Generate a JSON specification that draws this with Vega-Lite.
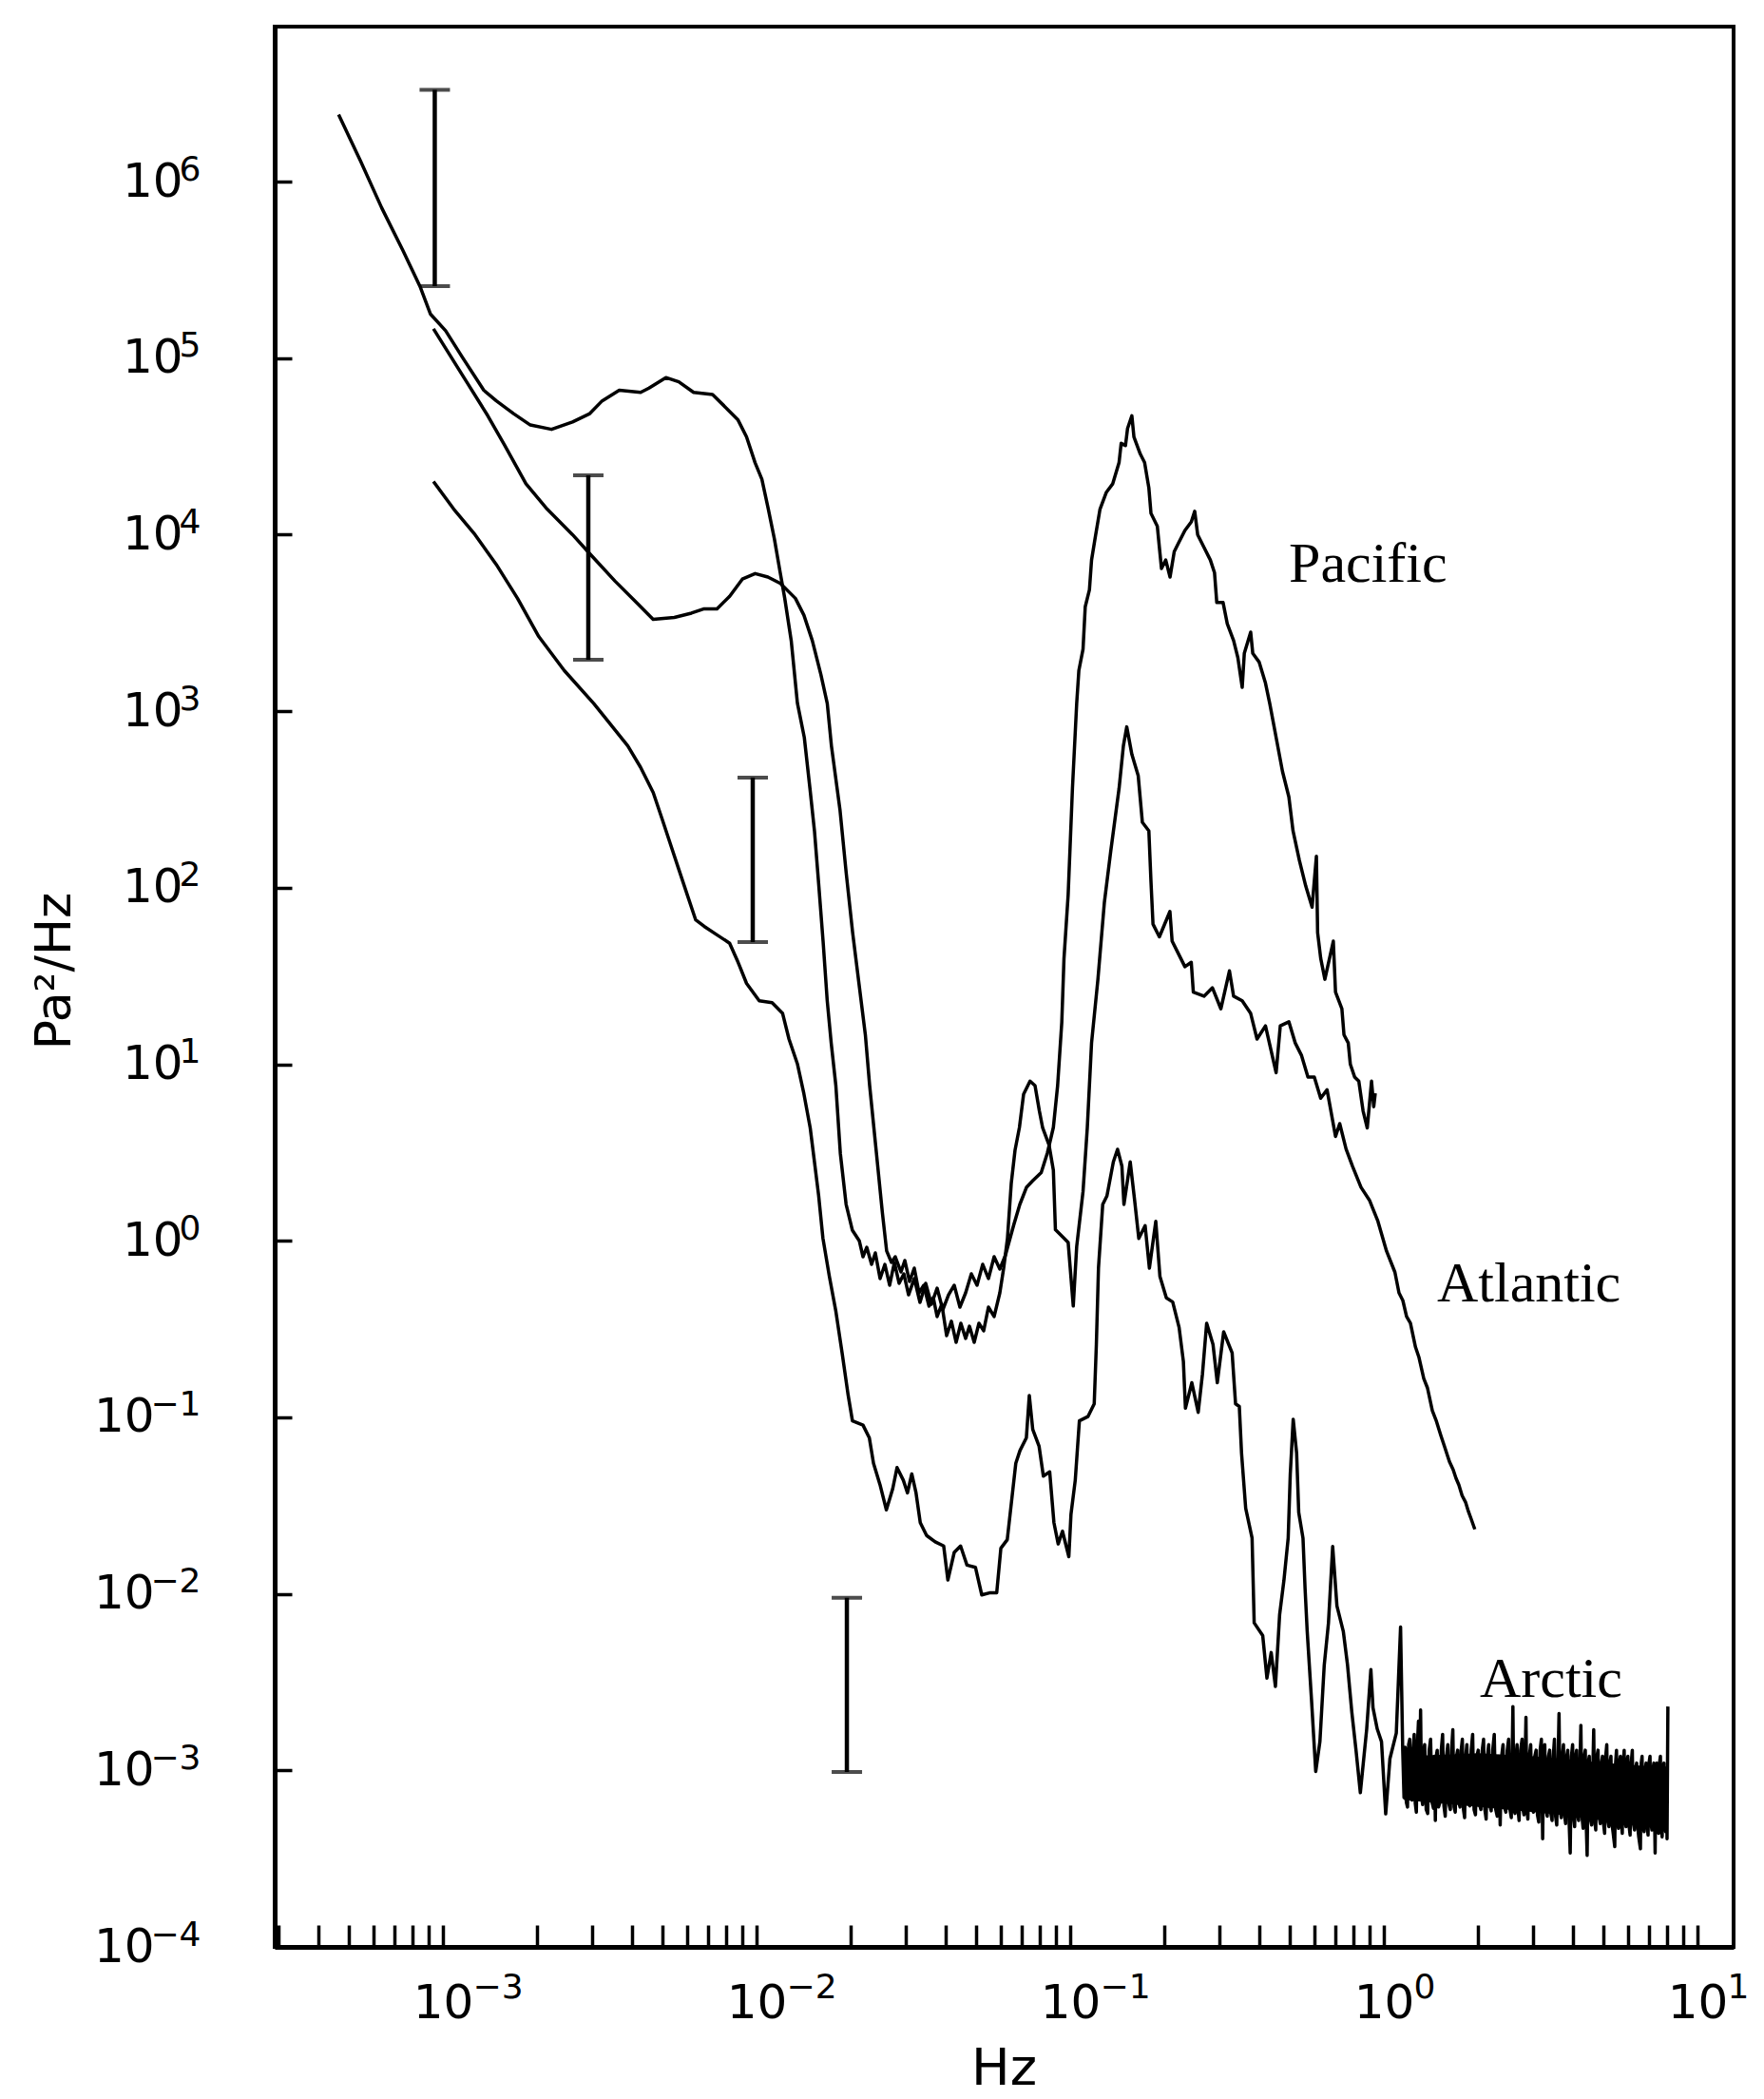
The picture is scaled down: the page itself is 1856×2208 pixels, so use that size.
{
"$schema": "https://vega.github.io/schema/vega-lite/v6.json",
"width": 1535, "height": 2020,
"autosize": {"type": "none"},
"padding": {"left": 289, "top": 28, "right": 32, "bottom": 160},
"background": "white",
"view": {"stroke": "black", "strokeWidth": 4, "fill": null},
"config": {"axis": {"grid": false, "domainColor": "black", "tickColor": "black", "labelColor": "black", "titleColor": "black"}},
"resolve": {"axis": {"x": "independent", "y": "independent"}},
"datasets": {
"band": [
{"f": 1.16, "v": 0.00068, "v2": 0.0012}, {"f": 2.0, "v": 0.00062, "v2": 0.00125}, {"f": 3.0, "v": 0.00058, "v2": 0.0012}, {"f": 4.0, "v": 0.00055, "v2": 0.00115}, {"f": 5.0, "v": 0.00052, "v2": 0.0011}, {"f": 6.0, "v": 0.0005, "v2": 0.00108}, {"f": 7.0, "v": 0.00049, "v2": 0.00105}, {"f": 7.96, "v": 0.00048, "v2": 0.00105}
],
"bars": [
{"f": 0.000942, "v": 256000, "v2": 3310000},
{"f": 0.002908, "v": 1954, "v2": 21700},
{"f": 0.009725, "v": 49.2, "v2": 421},
{"f": 0.01941, "v": 0.00098, "v2": 0.0095}
],
"caps": [
{"f": 0.000942, "v": 256000}, {"f": 0.000942, "v": 3310000},
{"f": 0.002908, "v": 1954}, {"f": 0.002908, "v": 21700},
{"f": 0.009725, "v": 49.2}, {"f": 0.009725, "v": 421},
{"f": 0.01941, "v": 0.00098}, {"f": 0.01941, "v": 0.0095}
],
"labels": [
{"t": "Pacific", "f": 0.498, "v": 5408},
{"t": "Atlantic", "f": 1.478, "v": 0.4534},
{"t": "Arctic", "f": 2.023, "v": 0.002608}
],
"curves": [
{"s":"Pacific","f":0.000465,"v":2400000},{"s":"Pacific","f":0.000546,"v":1310000},{"s":"Pacific","f":0.000638,"v":710000},{"s":"Pacific","f":0.000745,"v":408000},{"s":"Pacific","f":0.000845,"v":255000},{"s":"Pacific","f":0.000912,"v":178000},{"s":"Pacific","f":0.00102,"v":143000},{"s":"Pacific","f":0.00115,"v":102000},{"s":"Pacific","f":0.00135,"v":65800},{"s":"Pacific","f":0.00148,"v":57300},{"s":"Pacific","f":0.00168,"v":48500},{"s":"Pacific","f":0.0019,"v":41800},{"s":"Pacific","f":0.00222,"v":39500},{"s":"Pacific","f":0.00259,"v":43500},{"s":"Pacific","f":0.00294,"v":48500},{"s":"Pacific","f":0.00322,"v":57300},{"s":"Pacific","f":0.00365,"v":65800},{"s":"Pacific","f":0.00427,"v":64000},{"s":"Pacific","f":0.00454,"v":67600},{"s":"Pacific","f":0.00514,"v":77600},{"s":"Pacific","f":0.00565,"v":73500},{"s":"Pacific","f":0.0063,"v":64000},{"s":"Pacific","f":0.00724,"v":62200},{"s":"Pacific","f":0.00796,"v":52700},{"s":"Pacific","f":0.00873,"v":44600},{"s":"Pacific","f":0.00929,"v":35800},{"s":"Pacific","f":0.00989,"v":25600},{"s":"Pacific","f":0.0104,"v":20600},{"s":"Pacific","f":0.0109,"v":14000},{"s":"Pacific","f":0.0114,"v":9460},{"s":"Pacific","f":0.0119,"v":6080},{"s":"Pacific","f":0.0123,"v":4360},{"s":"Pacific","f":0.0129,"v":2510},{"s":"Pacific","f":0.0135,"v":1110},{"s":"Pacific","f":0.0142,"v":710},{"s":"Pacific","f":0.0148,"v":366},{"s":"Pacific","f":0.0153,"v":210},{"s":"Pacific","f":0.0158,"v":102},{"s":"Pacific","f":0.0163,"v":49.8},{"s":"Pacific","f":0.0168,"v":23},{"s":"Pacific","f":0.0173,"v":13.2},{"s":"Pacific","f":0.0179,"v":7.59},{"s":"Pacific","f":0.0185,"v":3.13},{"s":"Pacific","f":0.0193,"v":1.61},{"s":"Pacific","f":0.0202,"v":1.15},
{"s":"Pacific","f":0.02126,"v":1.0},{"s":"Pacific","f":0.02185,"v":0.812},{"s":"Pacific","f":0.02246,"v":0.919},{"s":"Pacific","f":0.02327,"v":0.735},{"s":"Pacific","f":0.02392,"v":0.853},{"s":"Pacific","f":0.02477,"v":0.611},{"s":"Pacific","f":0.02566,"v":0.735},{"s":"Pacific","f":0.02657,"v":0.56},{"s":"Pacific","f":0.02751,"v":0.754},{"s":"Pacific","f":0.02848,"v":0.574},{"s":"Pacific","f":0.02949,"v":0.65},{"s":"Pacific","f":0.03053,"v":0.494},{"s":"Pacific","f":0.03184,"v":0.611},{"s":"Pacific","f":0.0332,"v":0.448},{"s":"Pacific","f":0.03462,"v":0.574},{"s":"Pacific","f":0.03611,"v":0.437},{"s":"Pacific","f":0.03765,"v":0.539},{"s":"Pacific","f":0.03926,"v":0.406},{"s":"Pacific","f":0.04094,"v":0.494},{"s":"Pacific","f":0.04269,"v":0.56},{"s":"Pacific","f":0.04451,"v":0.421},{"s":"Pacific","f":0.04642,"v":0.507},{"s":"Pacific","f":0.0484,"v":0.65},{"s":"Pacific","f":0.05047,"v":0.56},{"s":"Pacific","f":0.05262,"v":0.735},{"s":"Pacific","f":0.05488,"v":0.611},{"s":"Pacific","f":0.05722,"v":0.812},{"s":"Pacific","f":0.05967,"v":0.691},{"s":"Pacific","f":0.06222,"v":0.832},{"s":"Pacific","f":0.06602,"v":1.222},{"s":"Pacific","f":0.06909,"v":1.606},{"s":"Pacific","f":0.07254,"v":2.007},{"s":"Pacific","f":0.07597,"v":2.189},{"s":"Pacific","f":0.08084,"v":2.433},{"s":"Pacific","f":0.08457,"v":3.137},{"s":"Pacific","f":0.08839,"v":4.384},{"s":"Pacific","f":0.0912,"v":7.566},{"s":"Pacific","f":0.09404,"v":17.36},{"s":"Pacific","f":0.09557,"v":39.85},{"s":"Pacific","f":0.09854,"v":91.4},{"s":"Pacific","f":0.1017,"v":366.7},{"s":"Pacific","f":0.1049,"v":1105},{"s":"Pacific","f":0.1066,"v":1702},{"s":"Pacific","f":0.1099,"v":2245},{"s":"Pacific","f":0.1117,"v":3907},{"s":"Pacific","f":0.1152,"v":4871},{"s":"Pacific","f":0.117,"v":7182},{"s":"Pacific","f":0.1206,"v":10000},{"s":"Pacific","f":0.1245,"v":13960},{"s":"Pacific","f":0.1305,"v":17410},{"s":"Pacific","f":0.1367,"v":19430},{"s":"Pacific","f":0.1432,"v":25660},{"s":"Pacific","f":0.1454,"v":32920},{"s":"Pacific","f":0.1501,"v":32000},{"s":"Pacific","f":0.1524,"v":39960},{"s":"Pacific","f":0.1573,"v":47180},{"s":"Pacific","f":0.1597,"v":35780},{"s":"Pacific","f":0.1673,"v":28650},{"s":"Pacific","f":0.1727,"v":25660},{"s":"Pacific","f":0.1782,"v":18400},{"s":"Pacific","f":0.181,"v":13200},{"s":"Pacific","f":0.1896,"v":11180},{"s":"Pacific","f":0.1925,"v":8480},{"s":"Pacific","f":0.1955,"v":6430},{"s":"Pacific","f":0.2017,"v":7180},{"s":"Pacific","f":0.2082,"v":5750},{"s":"Pacific","f":0.2147,"v":8020},{"s":"Pacific","f":0.2215,"v":8960},{"s":"Pacific","f":0.2322,"v":10570},{"s":"Pacific","f":0.2433,"v":11820},{"s":"Pacific","f":0.2495,"v":13570},{"s":"Pacific","f":0.255,"v":10000},{"s":"Pacific","f":0.2671,"v":8480},{"s":"Pacific","f":0.2799,"v":7180},{"s":"Pacific","f":0.2886,"v":6080},{"s":"Pacific","f":0.2934,"v":4127},{"s":"Pacific","f":0.3073,"v":4127},{"s":"Pacific","f":0.3169,"v":3130},{"s":"Pacific","f":0.332,"v":2509},{"s":"Pacific","f":0.3425,"v":2011},{"s":"Pacific","f":0.3536,"v":1365},{"s":"Pacific","f":0.3591,"v":2126},{"s":"Pacific","f":0.3763,"v":2803},{"s":"Pacific","f":0.3821,"v":2126},{"s":"Pacific","f":0.4003,"v":1900},{"s":"Pacific","f":0.4195,"v":1442},{"s":"Pacific","f":0.4329,"v":1105},{"s":"Pacific","f":0.4536,"v":710},{"s":"Pacific","f":0.4753,"v":456},{"s":"Pacific","f":0.4981,"v":327},{"s":"Pacific","f":0.5135,"v":210},{"s":"Pacific","f":0.5381,"v":142.6},{"s":"Pacific","f":0.5638,"v":102.2},{"s":"Pacific","f":0.5907,"v":77.6},{"s":"Pacific","f":0.6097,"v":150.7},{"s":"Pacific","f":0.6152,"v":55.6},{"s":"Pacific","f":0.6291,"v":39.9},{"s":"Pacific","f":0.6488,"v":30.3},{"s":"Pacific","f":0.6903,"v":49.8},{"s":"Pacific","f":0.7016,"v":25.6},{"s":"Pacific","f":0.7351,"v":20.6},{"s":"Pacific","f":0.7464,"v":14.7},{"s":"Pacific","f":0.7703,"v":13.2},{"s":"Pacific","f":0.7821,"v":10.0},{"s":"Pacific","f":0.8072,"v":8.47},{"s":"Pacific","f":0.8323,"v":8.02},{"s":"Pacific","f":0.8588,"v":5.44},{"s":"Pacific","f":0.8857,"v":4.36},{"s":"Pacific","f":0.9139,"v":8.02},{"s":"Pacific","f":0.9288,"v":5.75},{"s":"Pacific","f":0.9391,"v":6.85},

{"s":"Atlantic","f":0.000933,"v":146700},{"s":"Atlantic","f":0.001018,"v":114400},{"s":"Atlantic","f":0.00119,"v":73400},{"s":"Atlantic","f":0.00139,"v":47200},{"s":"Atlantic","f":0.001575,"v":32000},{"s":"Atlantic","f":0.00184,"v":19430},{"s":"Atlantic","f":0.00215,"v":13960},{"s":"Atlantic","f":0.00259,"v":10000},{"s":"Atlantic","f":0.00294,"v":7800},{"s":"Atlantic","f":0.00354,"v":5450},{"s":"Atlantic","f":0.00414,"v":4130},{"s":"Atlantic","f":0.00468,"v":3310},{"s":"Atlantic","f":0.00547,"v":3400},{"s":"Atlantic","f":0.0062,"v":3595},{"s":"Atlantic","f":0.00681,"v":3800},{"s":"Atlantic","f":0.00748,"v":3800},{"s":"Atlantic","f":0.00821,"v":4480},{"s":"Atlantic","f":0.00901,"v":5600},{"s":"Atlantic","f":0.0099,"v":6020},{"s":"Atlantic","f":0.01087,"v":5750},{"s":"Atlantic","f":0.01192,"v":5290},{"s":"Atlantic","f":0.0133,"v":4360},{"s":"Atlantic","f":0.01416,"v":3500},{"s":"Atlantic","f":0.01506,"v":2510},{"s":"Atlantic","f":0.01604,"v":1612},{"s":"Atlantic","f":0.01681,"v":1105},{"s":"Atlantic","f":0.01733,"v":636},{"s":"Atlantic","f":0.01845,"v":277},{"s":"Atlantic","f":0.01932,"v":120.8},{"s":"Atlantic","f":0.02025,"v":55.6},{"s":"Atlantic","f":0.02121,"v":28.7},{"s":"Atlantic","f":0.02223,"v":14.7},{"s":"Atlantic","f":0.02294,"v":7.59},{"s":"Atlantic","f":0.02404,"v":3.31},{"s":"Atlantic","f":0.02519,"v":1.442},{"s":"Atlantic","f":0.02599,"v":0.876},
{"s":"Atlantic","f":0.02693,"v":0.754},{"s":"Atlantic","f":0.02769,"v":0.812},{"s":"Atlantic","f":0.02888,"v":0.666},{"s":"Atlantic","f":0.0297,"v":0.773},{"s":"Atlantic","f":0.03075,"v":0.588},{"s":"Atlantic","f":0.03184,"v":0.7},{"s":"Atlantic","f":0.03297,"v":0.507},{"s":"Atlantic","f":0.03414,"v":0.56},{"s":"Atlantic","f":0.03548,"v":0.426},{"s":"Atlantic","f":0.03661,"v":0.476},{"s":"Atlantic","f":0.03765,"v":0.372},{"s":"Atlantic","f":0.03898,"v":0.437},{"s":"Atlantic","f":0.04037,"v":0.29},{"s":"Atlantic","f":0.04181,"v":0.35},{"s":"Atlantic","f":0.04329,"v":0.266},{"s":"Atlantic","f":0.04482,"v":0.341},{"s":"Atlantic","f":0.04642,"v":0.28},{"s":"Atlantic","f":0.04774,"v":0.328},{"s":"Atlantic","f":0.04943,"v":0.266},{"s":"Atlantic","f":0.05118,"v":0.341},{"s":"Atlantic","f":0.05299,"v":0.309},{"s":"Atlantic","f":0.05488,"v":0.421},{"s":"Atlantic","f":0.05722,"v":0.372},{"s":"Atlantic","f":0.05967,"v":0.507},{"s":"Atlantic","f":0.06137,"v":0.7},{"s":"Atlantic","f":0.0631,"v":1.03},{"s":"Atlantic","f":0.06488,"v":2.109},{"s":"Atlantic","f":0.06671,"v":3.256},{"s":"Atlantic","f":0.0689,"v":4.384},{"s":"Atlantic","f":0.07104,"v":6.77},{"s":"Atlantic","f":0.07449,"v":8.02},{"s":"Atlantic","f":0.07726,"v":7.57},{"s":"Atlantic","f":0.07976,"v":5.44},{"s":"Atlantic","f":0.08172,"v":4.36},{"s":"Atlantic","f":0.08563,"v":3.49},{"s":"Atlantic","f":0.08839,"v":2.51},{"s":"Atlantic","f":0.08974,"v":1.155},{"s":"Atlantic","f":0.09557,"v":1.034},{"s":"Atlantic","f":0.09854,"v":0.978},{"s":"Atlantic","f":0.1023,"v":0.427},{"s":"Atlantic","f":0.1049,"v":0.926},{"s":"Atlantic","f":0.1099,"v":1.901},{"s":"Atlantic","f":0.1134,"v":4.36},{"s":"Atlantic","f":0.117,"v":13.2},{"s":"Atlantic","f":0.1226,"v":30.3},{"s":"Atlantic","f":0.1285,"v":82},{"s":"Atlantic","f":0.1346,"v":159.2},{"s":"Atlantic","f":0.1432,"v":365.4},{"s":"Atlantic","f":0.1478,"v":636},{"s":"Atlantic","f":0.1515,"v":815},{"s":"Atlantic","f":0.1573,"v":569},{"s":"Atlantic","f":0.1648,"v":431},{"s":"Atlantic","f":0.1699,"v":234.7},{"s":"Atlantic","f":0.1782,"v":210},{"s":"Atlantic","f":0.181,"v":108.1},{"s":"Atlantic","f":0.1837,"v":62.2},{"s":"Atlantic","f":0.1925,"v":52.7},{"s":"Atlantic","f":0.208,"v":73.4},{"s":"Atlantic","f":0.2114,"v":49.8},{"s":"Atlantic","f":0.2215,"v":42.2},{"s":"Atlantic","f":0.2322,"v":35.7},{"s":"Atlantic","f":0.2433,"v":37.8},{"s":"Atlantic","f":0.247,"v":25.6},{"s":"Atlantic","f":0.2671,"v":24.3},{"s":"Atlantic","f":0.2842,"v":27.1},{"s":"Atlantic","f":0.3024,"v":20.6},{"s":"Atlantic","f":0.322,"v":33.8},{"s":"Atlantic","f":0.332,"v":24.3},{"s":"Atlantic","f":0.3536,"v":22.9},{"s":"Atlantic","f":0.3763,"v":19.4},{"s":"Atlantic","f":0.3943,"v":13.9},{"s":"Atlantic","f":0.4195,"v":16.5},{"s":"Atlantic","f":0.4536,"v":8.96},{"s":"Atlantic","f":0.4677,"v":16.5},{"s":"Atlantic","f":0.4981,"v":17.4},{"s":"Atlantic","f":0.5219,"v":13.2},{"s":"Atlantic","f":0.5468,"v":11.2},{"s":"Atlantic","f":0.573,"v":8.47},{"s":"Atlantic","f":0.6004,"v":8.47},{"s":"Atlantic","f":0.6291,"v":6.42},{"s":"Atlantic","f":0.6593,"v":7.17},{"s":"Atlantic","f":0.7016,"v":3.9},{"s":"Atlantic","f":0.7235,"v":4.61},{"s":"Atlantic","f":0.758,"v":3.31},{"s":"Atlantic","f":0.7943,"v":2.65},{"s":"Atlantic","f":0.8457,"v":2.01},{"s":"Atlantic","f":0.8999,"v":1.7},{"s":"Atlantic","f":0.9577,"v":1.29},{"s":"Atlantic","f":1.02,"v":0.876},{"s":"Atlantic","f":1.085,"v":0.664},{"s":"Atlantic","f":1.118,"v":0.507},{"s":"Atlantic","f":1.15,"v":0.459},{"s":"Atlantic","f":1.182,"v":0.372},{"s":"Atlantic","f":1.216,"v":0.341},{"s":"Atlantic","f":1.262,"v":0.25},{"s":"Atlantic","f":1.295,"v":0.218},{"s":"Atlantic","f":1.341,"v":0.166},{"s":"Atlantic","f":1.378,"v":0.1467},{"s":"Atlantic","f":1.428,"v":0.109},{"s":"Atlantic","f":1.468,"v":0.0962},{"s":"Atlantic","f":1.52,"v":0.0789},{"s":"Atlantic","f":1.563,"v":0.068},{"s":"Atlantic","f":1.619,"v":0.0561},{"s":"Atlantic","f":1.664,"v":0.0505},{"s":"Atlantic","f":1.699,"v":0.0452},{"s":"Atlantic","f":1.735,"v":0.0414},{"s":"Atlantic","f":1.777,"v":0.036},{"s":"Atlantic","f":1.822,"v":0.0331},{"s":"Atlantic","f":1.861,"v":0.0293},{"s":"Atlantic","f":1.9,"v":0.0265},{"s":"Atlantic","f":1.951,"v":0.0232},

{"s":"Arctic","f":0.000933,"v":20000},{"s":"Arctic","f":0.001083,"v":13960},{"s":"Arctic","f":0.001266,"v":10000},{"s":"Arctic","f":0.001479,"v":6790},{"s":"Arctic","f":0.001729,"v":4360},{"s":"Arctic","f":0.002021,"v":2650},{"s":"Arctic","f":0.002436,"v":1702},{"s":"Arctic","f":0.003028,"v":1105},{"s":"Arctic","f":0.003431,"v":838},{"s":"Arctic","f":0.003886,"v":636},{"s":"Arctic","f":0.004266,"v":482},{"s":"Arctic","f":0.004684,"v":345.6},{"s":"Arctic","f":0.004988,"v":248.1},{"s":"Arctic","f":0.005306,"v":178},{"s":"Arctic","f":0.005646,"v":127.7},{"s":"Arctic","f":0.006008,"v":91.6},{"s":"Arctic","f":0.006398,"v":65.7},{"s":"Arctic","f":0.006808,"v":60.4},{"s":"Arctic","f":0.007475,"v":54.1},{"s":"Arctic","f":0.008208,"v":48.5},{"s":"Arctic","f":0.008734,"v":37.8},{"s":"Arctic","f":0.009294,"v":28.7},{"s":"Arctic","f":0.0102,"v":22.9},{"s":"Arctic","f":0.01121,"v":22.3},{"s":"Arctic","f":0.01211,"v":19.4},{"s":"Arctic","f":0.01269,"v":13.9},{"s":"Arctic","f":0.01351,"v":10},{"s":"Arctic","f":0.01416,"v":6.79},{"s":"Arctic","f":0.01483,"v":4.36},{"s":"Arctic","f":0.0153,"v":2.8},{"s":"Arctic","f":0.01578,"v":1.798},{"s":"Arctic","f":0.01628,"v":1.034},{"s":"Arctic","f":0.01707,"v":0.628},{"s":"Arctic","f":0.01788,"v":0.404},{"s":"Arctic","f":0.01874,"v":0.232},{"s":"Arctic","f":0.0196,"v":0.133},{"s":"Arctic","f":0.02022,"v":0.0955},{"s":"Arctic","f":0.02185,"v":0.0903},{"s":"Arctic","f":0.02289,"v":0.0765},{"s":"Arctic","f":0.0236,"v":0.0549},{"s":"Arctic","f":0.02475,"v":0.0416},{"s":"Arctic","f":0.02594,"v":0.0299},{"s":"Arctic","f":0.02718,"v":0.0394},{"s":"Arctic","f":0.02805,"v":0.0519},{"s":"Arctic","f":0.02938,"v":0.044},{"s":"Arctic","f":0.03029,"v":0.0373},{"s":"Arctic","f":0.03126,"v":0.0478},{"s":"Arctic","f":0.03225,"v":0.0373},{"s":"Arctic","f":0.03327,"v":0.0253},{"s":"Arctic","f":0.03486,"v":0.0214},{"s":"Arctic","f":0.03711,"v":0.0197},{"s":"Arctic","f":0.03951,"v":0.01866},{"s":"Arctic","f":0.04074,"v":0.01197},{"s":"Arctic","f":0.04269,"v":0.01717},{"s":"Arctic","f":0.04473,"v":0.01866},{"s":"Arctic","f":0.04688,"v":0.01454},{"s":"Arctic","f":0.04988,"v":0.01413},{"s":"Arctic","f":0.05226,"v":0.00986},{"s":"Arctic","f":0.05565,"v":0.01015},{"s":"Arctic","f":0.05832,"v":0.01015},{"s":"Arctic","f":0.06012,"v":0.01814},{"s":"Arctic","f":0.06301,"v":0.02027},{"s":"Arctic","f":0.06501,"v":0.0333},{"s":"Arctic","f":0.06709,"v":0.0549},{"s":"Arctic","f":0.06918,"v":0.0648},{"s":"Arctic","f":0.07249,"v":0.0765},{"s":"Arctic","f":0.07408,"v":0.133},{"s":"Arctic","f":0.07597,"v":0.0854},{"s":"Arctic","f":0.0796,"v":0.0685},{"s":"Arctic","f":0.08213,"v":0.0465},{"s":"Arctic","f":0.08605,"v":0.0491},{"s":"Arctic","f":0.08876,"v":0.0253},{"s":"Arctic","f":0.09158,"v":0.01917},{"s":"Arctic","f":0.09451,"v":0.02264},{"s":"Arctic","f":0.09903,"v":0.01624},{"s":"Arctic","f":0.1006,"v":0.02823},{"s":"Arctic","f":0.1038,"v":0.044},{"s":"Arctic","f":0.107,"v":0.0955},{"s":"Arctic","f":0.1139,"v":0.1009},{"s":"Arctic","f":0.1193,"v":0.1191},{"s":"Arctic","f":0.1212,"v":0.2585},{"s":"Arctic","f":0.1231,"v":0.7},{"s":"Arctic","f":0.127,"v":1.606},{"s":"Arctic","f":0.131,"v":1.796},{"s":"Arctic","f":0.1373,"v":2.796},{"s":"Arctic","f":0.1416,"v":3.3},{"s":"Arctic","f":0.1462,"v":2.644},{"s":"Arctic","f":0.1484,"v":1.606},{"s":"Arctic","f":0.1554,"v":2.796},{"s":"Arctic","f":0.1605,"v":1.698},{"s":"Arctic","f":0.1655,"v":1.031},{"s":"Arctic","f":0.1734,"v":1.218},{"s":"Arctic","f":0.1789,"v":0.7},{"s":"Arctic","f":0.1875,"v":1.288},{"s":"Arctic","f":0.1933,"v":0.627},{"s":"Arctic","f":0.2026,"v":0.475},{"s":"Arctic","f":0.2123,"v":0.45},{"s":"Arctic","f":0.2225,"v":0.323},{"s":"Arctic","f":0.2296,"v":0.2073},{"s":"Arctic","f":0.2331,"v":0.1126},{"s":"Arctic","f":0.2443,"v":0.157},{"s":"Arctic","f":0.256,"v":0.1067},{"s":"Arctic","f":0.2641,"v":0.1756},{"s":"Arctic","f":0.2724,"v":0.341},{"s":"Arctic","f":0.2854,"v":0.2585},{"s":"Arctic","f":0.2945,"v":0.157},{"s":"Arctic","f":0.3086,"v":0.305},{"s":"Arctic","f":0.3284,"v":0.2315},{"s":"Arctic","f":0.3368,"v":0.1191},{"s":"Arctic","f":0.3462,"v":0.1152},{"s":"Arctic","f":0.3519,"v":0.0627},{"s":"Arctic","f":0.3628,"v":0.0305},{"s":"Arctic","f":0.3802,"v":0.0207},{"s":"Arctic","f":0.3861,"v":0.00685},{"s":"Arctic","f":0.4111,"v":0.0058},{"s":"Arctic","f":0.424,"v":0.00333},{"s":"Arctic","f":0.4375,"v":0.00465},{"s":"Arctic","f":0.4513,"v":0.00299},{"s":"Arctic","f":0.4655,"v":0.00765},{"s":"Arctic","f":0.4803,"v":0.0119},{"s":"Arctic","f":0.4956,"v":0.0207},{"s":"Arctic","f":0.5032,"v":0.0475},{"s":"Arctic","f":0.5142,"v":0.0975},{"s":"Arctic","f":0.5273,"v":0.0627},{"s":"Arctic","f":0.5355,"v":0.0289},{"s":"Arctic","f":0.5525,"v":0.0207},{"s":"Arctic","f":0.5611,"v":0.01067},{"s":"Arctic","f":0.5699,"v":0.00613},{"s":"Arctic","f":0.588,"v":0.00253},{"s":"Arctic","f":0.6067,"v":0.000986},{"s":"Arctic","f":0.6256,"v":0.001454},{"s":"Arctic","f":0.6457,"v":0.003936},{"s":"Arctic","f":0.6662,"v":0.00685},{"s":"Arctic","f":0.6871,"v":0.01854},{"s":"Arctic","f":0.7089,"v":0.00854},{"s":"Arctic","f":0.7428,"v":0.00613},{"s":"Arctic","f":0.7664,"v":0.003936},{"s":"Arctic","f":0.7906,"v":0.002141},{"s":"Arctic","f":0.8155,"v":0.0013},{"s":"Arctic","f":0.8417,"v":0.000748},{"s":"Arctic","f":0.882,"v":0.001715},{"s":"Arctic","f":0.9095,"v":0.003722},{"s":"Arctic","f":0.9237,"v":0.002264},{"s":"Arctic","f":0.953,"v":0.001715},{"s":"Arctic","f":0.9833,"v":0.001454},{"s":"Arctic","f":1.014,"v":0.000567},{"s":"Arctic","f":1.046,"v":0.001165},{"s":"Arctic","f":1.096,"v":0.001624},{"s":"Arctic","f":1.131,"v":0.00648},{"s":"Arctic","f":1.149,"v":0.0013},
{"s":"Arctic","f":1.16,"v":0.0007},{"s":"Arctic","f":1.17,"v":0.00135},{"s":"Arctic","f":1.18,"v":0.00066},{"s":"Arctic","f":1.19,"v":0.00062},{"s":"Arctic","f":1.2,"v":0.0014},{"s":"Arctic","f":1.21,"v":0.0015},{"s":"Arctic","f":1.22,"v":0.0007},{"s":"Arctic","f":1.23,"v":0.00068},{"s":"Arctic","f":1.24,"v":0.0013},{"s":"Arctic","f":1.25,"v":0.0016},{"s":"Arctic","f":1.26,"v":0.00065},{"s":"Arctic","f":1.27,"v":0.00058},{"s":"Arctic","f":1.28,"v":0.0014},{"s":"Arctic","f":1.29,"v":0.0019},{"s":"Arctic","f":1.3,"v":0.0007},{"s":"Arctic","f":1.31,"v":0.0022},{"s":"Arctic","f":1.32,"v":0.0007},{"s":"Arctic","f":1.33,"v":0.00064},{"s":"Arctic","f":1.34,"v":0.0013},{"s":"Arctic","f":1.35,"v":0.0014},{"s":"Arctic","f":1.365,"v":0.0006},{"s":"Arctic","f":1.38,"v":0.00057},{"s":"Arctic","f":1.395,"v":0.0013},{"s":"Arctic","f":1.41,"v":0.0015},{"s":"Arctic","f":1.425,"v":0.00066},{"s":"Arctic","f":1.44,"v":0.00061},{"s":"Arctic","f":1.45,"v":0.0012},{"s":"Arctic","f":1.46,"v":0.00052},{"s":"Arctic","f":1.47,"v":0.0012},{"s":"Arctic","f":1.48,"v":0.0013},{"s":"Arctic","f":1.495,"v":0.00062},{"s":"Arctic","f":1.51,"v":0.00066},{"s":"Arctic","f":1.525,"v":0.0013},{"s":"Arctic","f":1.54,"v":0.0016},{"s":"Arctic","f":1.555,"v":0.00063},{"s":"Arctic","f":1.57,"v":0.00055},{"s":"Arctic","f":1.585,"v":0.0012},{"s":"Arctic","f":1.6,"v":0.0014},{"s":"Arctic","f":1.615,"v":0.00064},{"s":"Arctic","f":1.63,"v":0.0006},{"s":"Arctic","f":1.645,"v":0.0013},{"s":"Arctic","f":1.66,"v":0.0017},{"s":"Arctic","f":1.675,"v":0.00062},{"s":"Arctic","f":1.69,"v":0.00058},{"s":"Arctic","f":1.705,"v":0.0012},{"s":"Arctic","f":1.72,"v":0.0013},{"s":"Arctic","f":1.735,"v":0.00066},{"s":"Arctic","f":1.75,"v":0.00062},{"s":"Arctic","f":1.765,"v":0.0013},{"s":"Arctic","f":1.78,"v":0.0015},{"s":"Arctic","f":1.795,"v":0.0006},{"s":"Arctic","f":1.81,"v":0.00054},{"s":"Arctic","f":1.825,"v":0.0012},{"s":"Arctic","f":1.84,"v":0.0014},{"s":"Arctic","f":1.86,"v":0.00066},{"s":"Arctic","f":1.88,"v":0.00063},{"s":"Arctic","f":1.9,"v":0.0013},{"s":"Arctic","f":1.92,"v":0.0016},{"s":"Arctic","f":1.94,"v":0.0006},{"s":"Arctic","f":1.96,"v":0.00056},{"s":"Arctic","f":1.98,"v":0.0012},{"s":"Arctic","f":2.0,"v":0.0013},{"s":"Arctic","f":2.02,"v":0.00064},{"s":"Arctic","f":2.04,"v":0.0006},{"s":"Arctic","f":2.06,"v":0.0013},{"s":"Arctic","f":2.08,"v":0.0015},{"s":"Arctic","f":2.1,"v":0.0006},{"s":"Arctic","f":2.12,"v":0.00053},{"s":"Arctic","f":2.14,"v":0.0012},{"s":"Arctic","f":2.16,"v":0.0014},{"s":"Arctic","f":2.18,"v":0.00063},{"s":"Arctic","f":2.2,"v":0.00059},{"s":"Arctic","f":2.225,"v":0.0013},{"s":"Arctic","f":2.25,"v":0.0016},{"s":"Arctic","f":2.275,"v":0.0006},{"s":"Arctic","f":2.3,"v":0.00055},{"s":"Arctic","f":2.325,"v":0.0012},{"s":"Arctic","f":2.35,"v":0.00049},{"s":"Arctic","f":2.375,"v":0.0012},{"s":"Arctic","f":2.4,"v":0.0014},{"s":"Arctic","f":2.425,"v":0.00062},{"s":"Arctic","f":2.45,"v":0.00058},{"s":"Arctic","f":2.475,"v":0.0013},{"s":"Arctic","f":2.5,"v":0.0015},{"s":"Arctic","f":2.525,"v":0.0006},{"s":"Arctic","f":2.55,"v":0.00054},{"s":"Arctic","f":2.58,"v":0.0023},{"s":"Arctic","f":2.6,"v":0.0006},{"s":"Arctic","f":2.62,"v":0.00057},{"s":"Arctic","f":2.64,"v":0.0012},{"s":"Arctic","f":2.66,"v":0.0014},{"s":"Arctic","f":2.68,"v":0.0006},{"s":"Arctic","f":2.7,"v":0.00052},{"s":"Arctic","f":2.73,"v":0.0013},{"s":"Arctic","f":2.76,"v":0.0015},{"s":"Arctic","f":2.78,"v":0.0006},{"s":"Arctic","f":2.8,"v":0.00056},{"s":"Arctic","f":2.84,"v":0.002},{"s":"Arctic","f":2.86,"v":0.0006},{"s":"Arctic","f":2.88,"v":0.00053},{"s":"Arctic","f":2.91,"v":0.0012},{"s":"Arctic","f":2.94,"v":0.0014},{"s":"Arctic","f":2.97,"v":0.00062},{"s":"Arctic","f":3.0,"v":0.00058},{"s":"Arctic","f":3.03,"v":0.0012},{"s":"Arctic","f":3.06,"v":0.0013},{"s":"Arctic","f":3.09,"v":0.00056},{"s":"Arctic","f":3.12,"v":0.00051},{"s":"Arctic","f":3.15,"v":0.0013},{"s":"Arctic","f":3.18,"v":0.0015},{"s":"Arctic","f":3.21,"v":0.00041},{"s":"Arctic","f":3.235,"v":0.0012},{"s":"Arctic","f":3.26,"v":0.0014},{"s":"Arctic","f":3.29,"v":0.0006},{"s":"Arctic","f":3.32,"v":0.00055},{"s":"Arctic","f":3.35,"v":0.0012},{"s":"Arctic","f":3.38,"v":0.0013},{"s":"Arctic","f":3.41,"v":0.00057},{"s":"Arctic","f":3.44,"v":0.00052},{"s":"Arctic","f":3.47,"v":0.0012},{"s":"Arctic","f":3.5,"v":0.0015},{"s":"Arctic","f":3.53,"v":0.00055},{"s":"Arctic","f":3.56,"v":0.00049},{"s":"Arctic","f":3.62,"v":0.0021},{"s":"Arctic","f":3.65,"v":0.0006},{"s":"Arctic","f":3.68,"v":0.00054},{"s":"Arctic","f":3.71,"v":0.0012},{"s":"Arctic","f":3.74,"v":0.0014},{"s":"Arctic","f":3.77,"v":0.00056},{"s":"Arctic","f":3.8,"v":0.0005},{"s":"Arctic","f":3.83,"v":0.0012},{"s":"Arctic","f":3.86,"v":0.0013},{"s":"Arctic","f":3.9,"v":0.0005},{"s":"Arctic","f":3.93,"v":0.00034},{"s":"Arctic","f":3.965,"v":0.0012},{"s":"Arctic","f":4.0,"v":0.0014},{"s":"Arctic","f":4.03,"v":0.00054},{"s":"Arctic","f":4.06,"v":0.00048},{"s":"Arctic","f":4.09,"v":0.0012},{"s":"Arctic","f":4.12,"v":0.0013},{"s":"Arctic","f":4.15,"v":0.00056},{"s":"Arctic","f":4.18,"v":0.00052},{"s":"Arctic","f":4.25,"v":0.0018},{"s":"Arctic","f":4.285,"v":0.00055},{"s":"Arctic","f":4.32,"v":0.00047},{"s":"Arctic","f":4.355,"v":0.0012},{"s":"Arctic","f":4.39,"v":0.0013},{"s":"Arctic","f":4.42,"v":0.0005},{"s":"Arctic","f":4.45,"v":0.00033},{"s":"Arctic","f":4.485,"v":0.0011},{"s":"Arctic","f":4.52,"v":0.0012},{"s":"Arctic","f":4.56,"v":0.00053},{"s":"Arctic","f":4.6,"v":0.00049},{"s":"Arctic","f":4.67,"v":0.0017},{"s":"Arctic","f":4.705,"v":0.00052},{"s":"Arctic","f":4.74,"v":0.00046},{"s":"Arctic","f":4.78,"v":0.0012},{"s":"Arctic","f":4.82,"v":0.0013},{"s":"Arctic","f":4.86,"v":0.00055},{"s":"Arctic","f":4.9,"v":0.0005},{"s":"Arctic","f":4.94,"v":0.0011},{"s":"Arctic","f":4.98,"v":0.0012},{"s":"Arctic","f":5.02,"v":0.0005},{"s":"Arctic","f":5.06,"v":0.00044},{"s":"Arctic","f":5.1,"v":0.0012},{"s":"Arctic","f":5.14,"v":0.0014},{"s":"Arctic","f":5.18,"v":0.00052},{"s":"Arctic","f":5.22,"v":0.00048},{"s":"Arctic","f":5.26,"v":0.0011},{"s":"Arctic","f":5.3,"v":0.0012},{"s":"Arctic","f":5.34,"v":0.0005},{"s":"Arctic","f":5.38,"v":0.00045},{"s":"Arctic","f":5.45,"v":0.00037},{"s":"Arctic","f":5.485,"v":0.0011},{"s":"Arctic","f":5.52,"v":0.0013},{"s":"Arctic","f":5.56,"v":0.00052},{"s":"Arctic","f":5.6,"v":0.00047},{"s":"Arctic","f":5.64,"v":0.0011},{"s":"Arctic","f":5.68,"v":0.0012},{"s":"Arctic","f":5.72,"v":0.0005},{"s":"Arctic","f":5.76,"v":0.00044},{"s":"Arctic","f":5.8,"v":0.0011},{"s":"Arctic","f":5.84,"v":0.0013},{"s":"Arctic","f":5.88,"v":0.00052},{"s":"Arctic","f":5.92,"v":0.00048},{"s":"Arctic","f":5.96,"v":0.0011},{"s":"Arctic","f":6.0,"v":0.0012},{"s":"Arctic","f":6.05,"v":0.00049},{"s":"Arctic","f":6.1,"v":0.00043},{"s":"Arctic","f":6.15,"v":0.0011},{"s":"Arctic","f":6.2,"v":0.0013},{"s":"Arctic","f":6.25,"v":0.0005},{"s":"Arctic","f":6.3,"v":0.00046},{"s":"Arctic","f":6.35,"v":0.001},{"s":"Arctic","f":6.4,"v":0.0011},{"s":"Arctic","f":6.45,"v":0.00048},{"s":"Arctic","f":6.5,"v":0.00042},{"s":"Arctic","f":6.58,"v":0.00036},{"s":"Arctic","f":6.62,"v":0.0011},{"s":"Arctic","f":6.66,"v":0.0012},{"s":"Arctic","f":6.71,"v":0.0005},{"s":"Arctic","f":6.76,"v":0.00045},{"s":"Arctic","f":6.81,"v":0.001},{"s":"Arctic","f":6.86,"v":0.0011},{"s":"Arctic","f":6.91,"v":0.00049},{"s":"Arctic","f":6.96,"v":0.00043},{"s":"Arctic","f":7.01,"v":0.0011},{"s":"Arctic","f":7.06,"v":0.0012},{"s":"Arctic","f":7.11,"v":0.0005},{"s":"Arctic","f":7.16,"v":0.00046},{"s":"Arctic","f":7.21,"v":0.001},{"s":"Arctic","f":7.26,"v":0.0011},{"s":"Arctic","f":7.33,"v":0.00034},{"s":"Arctic","f":7.37,"v":0.001},{"s":"Arctic","f":7.42,"v":0.0011},{"s":"Arctic","f":7.47,"v":0.00048},{"s":"Arctic","f":7.52,"v":0.00044},{"s":"Arctic","f":7.57,"v":0.0011},{"s":"Arctic","f":7.62,"v":0.0012},{"s":"Arctic","f":7.67,"v":0.00047},{"s":"Arctic","f":7.72,"v":0.00042},{"s":"Arctic","f":7.77,"v":0.001},{"s":"Arctic","f":7.82,"v":0.0011},{"s":"Arctic","f":7.87,"v":0.00049},{"s":"Arctic","f":7.92,"v":0.00045},{"s":"Arctic","f":7.96,"v":0.001},{"s":"Arctic","f":8.0,"v":0.00041},{"s":"Arctic","f":8.05,"v":0.0023}
]
},
"layer": [
{
"data": {"name": "curves"},
"mark": {"type": "line", "color": "black", "strokeWidth": 3.5, "clip": true, "strokeJoin": "round"},
"encoding": {
"x": {"field": "f", "type": "quantitative",
 "scale": {"type": "log", "domain": [0.0002908, 13.04], "nice": false},
 "axis": {"orient": "bottom", "title": "Hz", "labels": false, "values": [0.0003,0.0004,0.0005,0.0006,0.0007,0.0008,0.0009,0.001,0.002,0.003,0.004,0.005,0.006,0.007,0.008,0.009,0.01,0.02,0.03,0.04,0.05,0.06,0.07,0.08,0.09,0.1,0.2,0.3,0.4,0.5,0.6,0.7,0.8,0.9,1,2,3,4,5,6,7,8,9,10],
  "tickSize": -23, "tickWidth": 3.5, "domainWidth": 5,
  "titleFont": "DejaVu Sans", "titleFontSize": 54, "titleFontWeight": "normal", "titleX": 767, "titleY": 144, "titleBaseline": "alphabetic", "titleAlign": "center"}},
"y": {"field": "v", "type": "quantitative",
 "scale": {"type": "log", "domain": [0.0001, 7550000], "nice": false},
 "axis": {"orient": "left", "title": "Pa²/Hz", "labels": false, "values": [0.0001,0.001,0.01,0.1,1,10,100,1000,10000,100000,1000000],
  "tickSize": -18, "tickWidth": 3.5, "domainWidth": 5,
  "titleFont": "DejaVu Sans", "titleFontSize": 52, "titleFontWeight": "normal", "titleAngle": -90, "titleX": -216, "titleY": 993, "titleBaseline": "alphabetic", "titleAlign": "center"}},
"detail": {"field": "s", "type": "nominal"}
}
},
{
"data": {"name": "band"},
"mark": {"type": "area", "color": "black", "opacity": 1},
"encoding": {
"x": {"field": "f", "type": "quantitative", "scale": {"type": "log", "domain": [0.0002908, 13.04], "nice": false}, "axis": null},
"y": {"field": "v", "type": "quantitative", "scale": {"type": "log", "domain": [0.0001, 7550000], "nice": false}, "axis": null},
"y2": {"field": "v2"}
}
},
{
"data": {"name": "bars"},
"mark": {"type": "rule", "color": "black", "strokeWidth": 4.5},
"encoding": {
"x": {"field": "f", "type": "quantitative", "scale": {"type": "log", "domain": [0.0002908, 13.04], "nice": false},
 "axis": {"orient": "bottom", "title": null, "domain": false, "ticks": false, "values": [0.001,0.01,0.1,1,10], "labelExpr": "'10'",
  "labelFont": "DejaVu Sans", "labelFontSize": 50, "labelAlign": "center", "labelOffset": 0, "labelPadding": 34, "labelBaseline": "top", "labelOverlap": false, "labelBound": false, "labelFlush": false}},
"y": {"field": "v", "type": "quantitative", "scale": {"type": "log", "domain": [0.0001, 7550000], "nice": false},
 "axis": {"orient": "left", "title": null, "domain": false, "ticks": false, "values": [1,10,100,1000,10000,100000,1000000], "labelExpr": "'10'",
  "labelFont": "DejaVu Sans", "labelFontSize": 50, "labelAlign": "right", "labelBaseline": "middle", "labelPadding": 97, "labelOverlap": false, "labelBound": false, "labelFlush": false}},
"y2": {"field": "v2"}
}
},
{
"data": {"name": "caps"},
"mark": {"type": "tick", "color": "black", "orient": "horizontal", "size": 32, "thickness": 4},
"encoding": {
"x": {"field": "f", "type": "quantitative", "scale": {"type": "log", "domain": [0.0002908, 13.04], "nice": false}, "axis": null},
"y": {"field": "v", "type": "quantitative", "scale": {"type": "log", "domain": [0.0001, 7550000], "nice": false},
 "axis": {"orient": "left", "title": null, "domain": false, "ticks": false, "values": [0.0001,0.001,0.01,0.1], "labelExpr": "'10'",
  "labelFont": "DejaVu Sans", "labelFontSize": 50, "labelAlign": "right", "labelBaseline": "middle", "labelPadding": 127, "labelOverlap": false, "labelBound": false, "labelFlush": false}}
}
},
{
"data": {"name": "labels"},
"mark": {"type": "text", "color": "black", "font": "Liberation Serif", "fontSize": 60, "align": "left", "baseline": "alphabetic"},
"encoding": {
"x": {"field": "f", "type": "quantitative",
 "scale": {"type": "log", "domain": [0.0002908, 13.04], "nice": false},
 "axis": {"orient": "bottom", "title": null, "domain": false, "ticks": false, "values": [0.001,0.01,0.1,1,10],
  "labelExpr": "datum.value < 0.005 ? '−3' : datum.value < 0.05 ? '−2' : datum.value < 0.5 ? '−1' : datum.value < 5 ? '0' : '1'",
  "labelFont": "DejaVu Sans", "labelFontSize": 36, "labelAlign": "left", "labelOffset": 31, "labelPadding": 25, "labelBaseline": "top", "labelOverlap": false, "labelBound": false, "labelFlush": false}},
"y": {"field": "v", "type": "quantitative",
 "scale": {"type": "log", "domain": [0.0001, 7550000], "nice": false},
 "axis": {"orient": "left", "title": null, "domain": false, "ticks": false, "values": [0.0001,0.001,0.01,0.1,1,10,100,1000,10000,100000,1000000],
  "labelExpr": "datum.value < 0.0005 ? '−4' : datum.value < 0.005 ? '−3' : datum.value < 0.05 ? '−2' : datum.value < 0.5 ? '−1' : datum.value < 5 ? '0' : datum.value < 50 ? '1' : datum.value < 500 ? '2' : datum.value < 5000 ? '3' : datum.value < 50000 ? '4' : datum.value < 500000 ? '5' : '6'",
  "labelFont": "DejaVu Sans", "labelFontSize": 36, "labelAlign": "right", "labelBaseline": "middle", "labelOffset": -13, "labelPadding": 78, "labelOverlap": false, "labelBound": false, "labelFlush": false}},
"text": {"field": "t"}
}
}
]
}
